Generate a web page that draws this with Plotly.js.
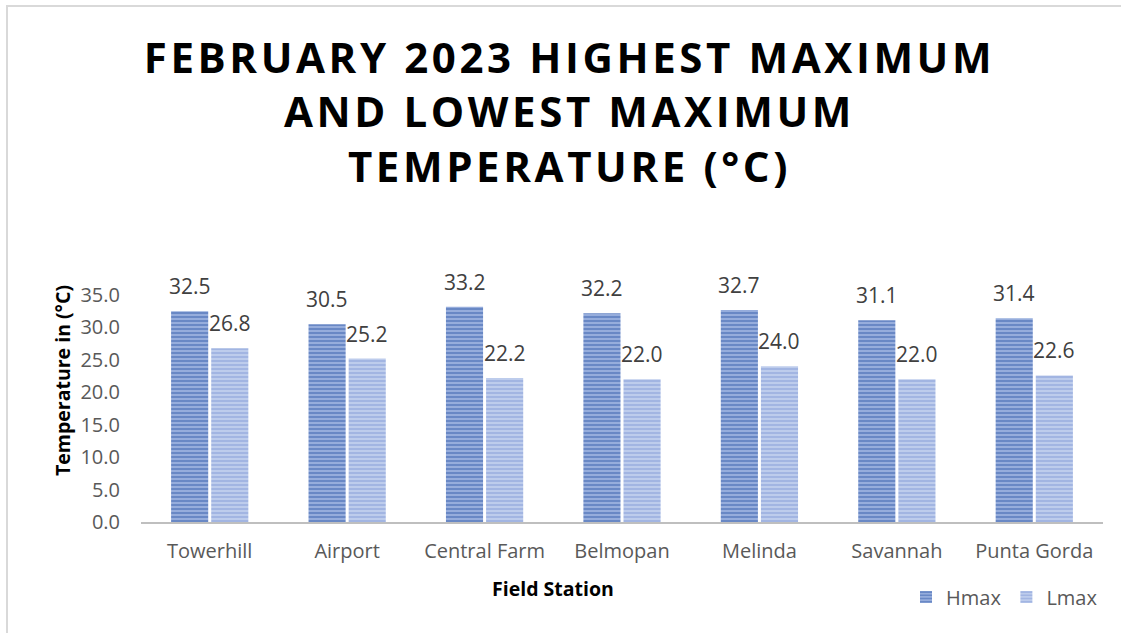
<!DOCTYPE html>
<html>
<head>
<meta charset="utf-8">
<script src="https://cdn.plot.ly/plotly-3.0.1.min.js"></script>
<style>
  html, body { margin: 0; padding: 0; background: #fff; }
  #wrap { position: relative; width: 1121px; height: 633px; overflow: hidden; }
  #chart { width: 1121px; height: 633px; }
  #frame { position: absolute; left: 6px; top: 5px; width: 1200px; height: 700px;
           border-left: 2px solid #d9d9d9; border-top: 2px solid #d9d9d9; pointer-events: none; }
  .gtitle { letter-spacing: 3.6px; }
</style>
</head>
<body>
<div id="wrap">
  <div id="chart"></div>
  <div id="frame"></div>
</div>
<script>
const stations = ["Towerhill", "Airport", "Central Farm", "Belmopan", "Melinda", "Savannah", "Punta Gorda"];
const hmax = [32.5, 30.5, 33.2, 32.2, 32.7, 31.1, 31.4];
const lmax = [26.8, 25.2, 22.2, 22.0, 24.0, 22.0, 22.6];
const seriesNames = ["Hmax", "Lmax"];
const yTicks = [0, 5, 10, 15, 20, 25, 30, 35];
const xTitle = "Field Station";
const yTitle = "Temperature in (°C)";

const FONT = "Open Sans, sans-serif";
const labelFont = { family: FONT, size: 21, color: "#404040" };
const axisTitleFont = { family: FONT, size: 19.5, color: "#000000", weight: 700 };

const ML = 141, MR = 18, MT = 295, MB = 111;
const PW = 1121 - ML - MR, PH = 633 - MT - MB;

const traces = [
  {
    type: "bar", name: seriesNames[0], x: stations, y: hmax,
    marker: { color: "#A2B7E2", line: { width: 0 },
      pattern: { shape: "-", size: 4, solidity: 0.6, fgcolor: "#2F59A8", bgcolor: "#A2B7E2", fillmode: "overlay" } },
    hoverinfo: "x+y"
  },
  {
    type: "bar", name: seriesNames[1], x: stations, y: lmax,
    marker: { color: "#C4D1EE", line: { width: 0 },
      pattern: { shape: "-", size: 4, solidity: 0.6, fgcolor: "#7F9AD6", bgcolor: "#C4D1EE", fillmode: "overlay" } },
    hoverinfo: "x+y"
  }
];

const annotations = [];
[hmax, lmax].forEach((vals, si) => {
  vals.forEach((v, i) => {
    annotations.push({
      x: stations[i], y: v, xref: "x", yref: "y",
      text: v.toFixed(1), showarrow: false,
      xshift: si === 0 ? -20 : 20, yshift: 9, yanchor: "bottom",
      font: labelFont
    });
  });
});
annotations.push({
  text: xTitle, showarrow: false, font: axisTitleFont,
  xref: "paper", yref: "paper", x: (553 - ML) / PW, y: -(588 - (633 - MB)) / PH,
  xanchor: "center", yanchor: "middle"
});
annotations.push({
  text: yTitle, showarrow: false, font: axisTitleFont, textangle: -90,
  xref: "paper", yref: "paper", x: -(ML - 62) / PW, y: ((633 - MB) - 381) / PH,
  xanchor: "center", yanchor: "middle"
});

const layout = {
  width: 1121, height: 633,
  paper_bgcolor: "#ffffff", plot_bgcolor: "#ffffff",
  margin: { l: ML, r: MR, t: MT, b: MB },
  title: {
    text: "FEBRUARY 2023 HIGHEST MAXIMUM<br>AND LOWEST MAXIMUM<br>TEMPERATURE (°C)",
    font: { family: FONT, size: 42, color: "#000000", weight: 700 },
    x: 0.508, xanchor: "center", xref: "container",
    y: 0.885, yanchor: "top", yref: "container"
  },
  barmode: "group",
  bargap: 0.416,
  bargroupgap: 0.075,
  xaxis: {
    type: "category",
    showline: true, linecolor: "#BFBFBF", linewidth: 2,
    ticks: "", showgrid: false,
    tickfont: { family: FONT, size: 20, color: "#595959" },
    ticklabelstandoff: 10
  },
  yaxis: {
    range: [0, 35], tickvals: yTicks, tickformat: ".1f",
    showline: false, showgrid: false, zeroline: false, ticks: "",
    tickfont: { family: FONT, size: 20, color: "#595959" },
    ticklabelstandoff: 20
  },
  showlegend: true,
  legend: {
    orientation: "h", x: 1, xanchor: "right", y: -0.33, yanchor: "middle",
    font: { family: FONT, size: 20, color: "#595959" },
    itemwidth: 30, traceorder: "normal"
  },
  annotations: annotations
};

Plotly.newPlot("chart", traces, layout, { displayModeBar: false, staticPlot: true });
</script>
</body>
</html>
